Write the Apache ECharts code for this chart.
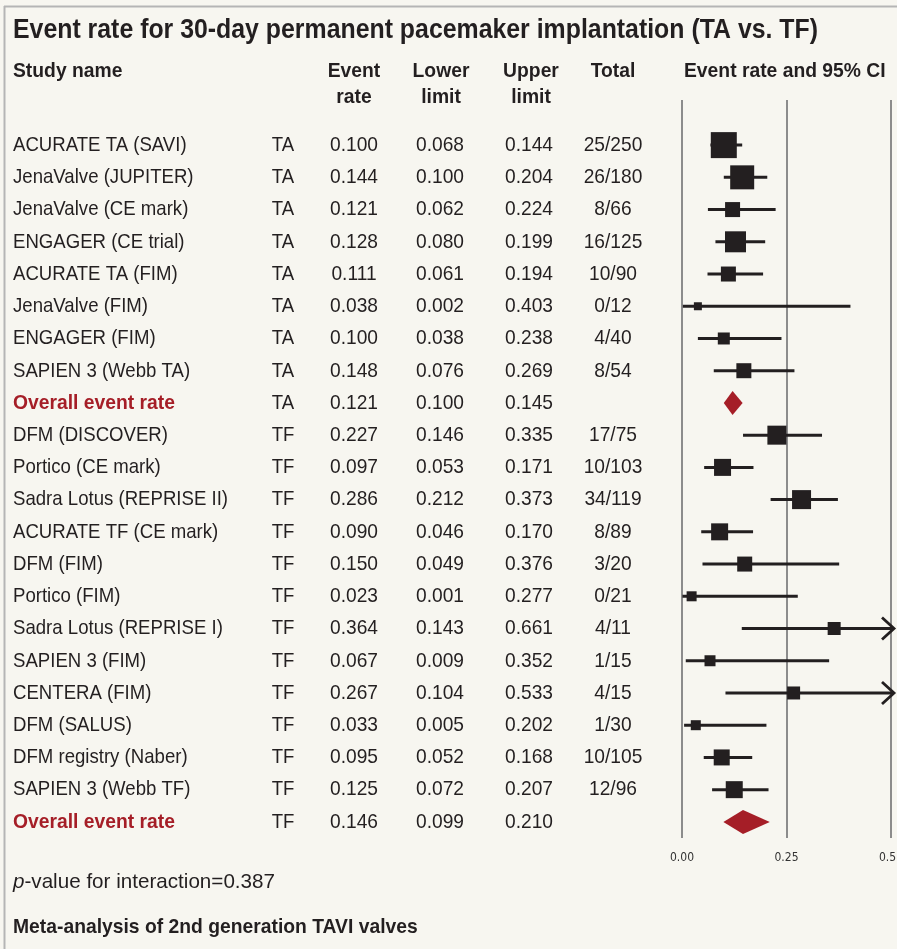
<!DOCTYPE html>
<html style="height: 100%;margin: 0;padding: 0;">
<head>
    <meta charset="utf-8">
    <title>Event rate for 30-day permanent pacemaker implantation</title>
    <script src="https://cdn.jsdelivr.net/npm/echarts@6/dist/echarts.min.js"></script>
</head>
<body style="margin:0;padding:0;background:#f7f6f0;">
<div id="main" style="width:897px;height:949px;"></div>
<script type="text/javascript">
// study rows, top to bottom
var studies = ['ACURATE TA (SAVI)', 'JenaValve (JUPITER)', 'JenaValve (CE mark)', 'ENGAGER (CE trial)',
    'ACURATE TA (FIM)', 'JenaValve (FIM)', 'ENGAGER (FIM)', 'SAPIEN 3 (Webb TA)', 'Overall event rate',
    'DFM (DISCOVER)', 'Portico (CE mark)', 'Sadra Lotus (REPRISE II)', 'ACURATE TF (CE mark)', 'DFM (FIM)',
    'Portico (FIM)', 'Sadra Lotus (REPRISE I)', 'SAPIEN 3 (FIM)', 'CENTERA (FIM)', 'DFM (SALUS)',
    'DFM registry (Naber)', 'SAPIEN 3 (Webb TF)', 'Overall event rate'];
var access = ['TA','TA','TA','TA','TA','TA','TA','TA','TA',
    'TF','TF','TF','TF','TF','TF','TF','TF','TF','TF','TF','TF','TF'];
var eventRate = [0.100, 0.144, 0.121, 0.128, 0.111, 0.038, 0.100, 0.148, 0.121,
    0.227, 0.097, 0.286, 0.090, 0.150, 0.023, 0.364, 0.067, 0.267, 0.033, 0.095, 0.125, 0.146];
var lowerLimit = [0.068, 0.100, 0.062, 0.080, 0.061, 0.002, 0.038, 0.076, 0.100,
    0.146, 0.053, 0.212, 0.046, 0.049, 0.001, 0.143, 0.009, 0.104, 0.005, 0.052, 0.072, 0.099];
var upperLimit = [0.144, 0.204, 0.224, 0.199, 0.194, 0.403, 0.238, 0.269, 0.145,
    0.335, 0.171, 0.373, 0.170, 0.376, 0.277, 0.661, 0.352, 0.533, 0.202, 0.168, 0.207, 0.210];
var totals = ['25/250', '26/180', '8/66', '16/125', '10/90', '0/12', '4/40', '8/54', '',
    '17/75', '10/103', '34/119', '8/89', '3/20', '0/21', '4/11', '1/15', '4/15', '1/30',
    '10/105', '12/96', ''];
// relative weight, shown as box size (px)
var weight = [26, 24, 15, 21, 15, 8, 12, 15, 0,
    19, 17, 19, 17, 15, 10, 13, 11, 13, 10, 16, 17, 0];
var overall = [false,false,false,false,false,false,false,false,true,
    false,false,false,false,false,false,false,false,false,false,false,false,true];
var xTicks = [0, 0.25, 0.5];

var FONT = "'Liberation Sans', Arial, sans-serif";
var INK = '#231f20';
var RED = '#a51e27';
var XMAX = 0.5;

// squeeze text horizontally so it looks like the condensed face of the original
var ctx = document.createElement('canvas').getContext('2d');
function squeeze(font, sample, target) {
    ctx.font = font;
    return target / ctx.measureText(sample).width;
}
var F_TITLE = 'bold 28px ' + FONT;
var F_HEAD = 'bold 21px ' + FONT;
var F_BODY = '21px ' + FONT;
var sTitle = squeeze(F_TITLE, 'Event rate for 30-day permanent pacemaker implantation (TA vs. TF)', 805);
var sHead = squeeze(F_HEAD, 'Overall event rate', 162);
var sBody = squeeze(F_BODY, 'Sadra Lotus (REPRISE II)', 215);
var sNum = squeeze(F_BODY, '0.100', 48);
var sNote = squeeze(F_BODY, 'p-value for interaction=0.387', 262);

var myChart = echarts.init(document.getElementById('main'));

var forestData = [];
var tableData = [];
for (var i = 0; i < studies.length; i++) {
    forestData.push([eventRate[i], i, lowerLimit[i], upperLimit[i], weight[i], overall[i] ? 1 : 0]);
    tableData.push([0, i]);
}

function renderForest(params, api) {
    var row = api.value(1);
    var c = api.coord([api.value(0), row]);
    var lo = api.coord([api.value(2), row]);
    var hiVal = api.value(3);
    var hi = api.coord([Math.min(hiVal, XMAX), row]);
    var size = api.value(4);
    var children = [];
    if (api.value(5) === 1) {
        var h = 12;
        children.push({
            type: 'polygon',
            shape: { points: [[lo[0], c[1]], [c[0], c[1] - h], [hi[0], c[1]], [c[0], c[1] + h]] },
            style: { fill: RED }
        });
        return { type: 'group', children: children };
    }
    children.push({
        type: 'line',
        shape: { x1: lo[0], y1: c[1], x2: hi[0] + (hiVal > XMAX ? 2 : 0), y2: c[1] },
        style: { stroke: INK, lineWidth: 3 }
    });
    if (hiVal > XMAX) {
        children.push({
            type: 'polyline',
            shape: { points: [[hi[0] - 9, c[1] - 11], [hi[0] + 3, c[1]], [hi[0] - 9, c[1] + 11]] },
            style: { stroke: INK, lineWidth: 2.8, fill: null }
        });
    }
    children.push({
        type: 'rect',
        shape: { x: c[0] - size / 2, y: c[1] - size / 2, width: size, height: size },
        style: { fill: INK }
    });
    return { type: 'group', children: children };
}

function txt(x, y, text, align, font, scale, color) {
    return {
        type: 'text', x: x, y: y, scaleX: scale,
        style: { text: text, fill: color || INK, font: font, align: align, verticalAlign: 'middle' }
    };
}

function renderTable(params, api) {
    var i = api.value(1);
    var y = api.coord([0, i])[1];
    var first = overall[i] ? txt(13, y, studies[i], 'left', F_HEAD, sHead, RED)
                           : txt(13, y, studies[i], 'left', F_BODY, sBody);
    return {
        type: 'group',
        children: [
            first,
            txt(283, y, access[i], 'center', F_BODY, sBody),
            txt(354, y, eventRate[i].toFixed(3), 'center', F_BODY, sNum),
            txt(440, y, lowerLimit[i].toFixed(3), 'center', F_BODY, sNum),
            txt(529, y, upperLimit[i].toFixed(3), 'center', F_BODY, sNum),
            txt(613, y, totals[i], 'center', F_BODY, sNum)
        ]
    };
}

var option = {
    backgroundColor: '#f7f6f0',
    animation: false,
    grid: { left: 682, right: 6, top: 100, bottom: 111, outerBoundsMode: 'none' },
    xAxis: {
        type: 'value', min: 0, max: XMAX, interval: 0.25,
        axisLine: { show: false }, axisTick: { show: false },
        splitLine: { show: true, lineStyle: { color: '#8c8c8c', width: 2 } },
        axisLabel: {
            margin: 14, fontSize: 12, color: '#333', fontFamily: "'DejaVu Sans Condensed', sans-serif",
            hideOverlap: false,
            formatter: function (v) { return xTicks.indexOf(v) >= 0 ? v.toFixed(2) : ''; }
        }
    },
    yAxis: { type: 'value', min: -1.4, max: 21.5, inverse: true, show: false },
    series: [
        { type: 'custom', renderItem: renderForest, data: forestData, clip: false, silent: true },
        { type: 'custom', renderItem: renderTable, data: tableData, clip: false, silent: true }
    ],
    graphic: [
        { type: 'line', shape: { x1: 4.5, y1: 6, x2: 4.5, y2: 949 }, style: { stroke: '#b5b5b5', lineWidth: 2 } },
        { type: 'line', shape: { x1: 4, y1: 6.5, x2: 897, y2: 6.5 }, style: { stroke: '#b5b5b5', lineWidth: 2 } },
        txt(13, 30, 'Event rate for 30-day permanent pacemaker implantation (TA vs. TF)', 'left', F_TITLE, sTitle),
        txt(13, 71, 'Study name', 'left', F_HEAD, sHead),
        txt(354, 71, 'Event', 'center', F_HEAD, sHead),
        txt(354, 97, 'rate', 'center', F_HEAD, sHead),
        txt(441, 71, 'Lower', 'center', F_HEAD, sHead),
        txt(441, 97, 'limit', 'center', F_HEAD, sHead),
        txt(531, 71, 'Upper', 'center', F_HEAD, sHead),
        txt(531, 97, 'limit', 'center', F_HEAD, sHead),
        txt(613, 71, 'Total', 'center', F_HEAD, sHead),
        txt(684, 71, 'Event rate and 95% CI', 'left', F_HEAD, sHead),
        {
            type: 'text', x: 13, y: 882, scaleX: sNote,
            style: {
                text: '{i|p}-value for interaction=0.387', fill: INK, font: F_BODY, verticalAlign: 'middle',
                rich: { i: { fontStyle: 'italic', fontSize: 21, fontFamily: FONT, fill: INK } }
            }
        },
        txt(13, 927, 'Meta-analysis of 2nd generation TAVI valves', 'left', F_HEAD, sHead)
    ]
};
myChart.setOption(option);
</script>
</body>
</html>
